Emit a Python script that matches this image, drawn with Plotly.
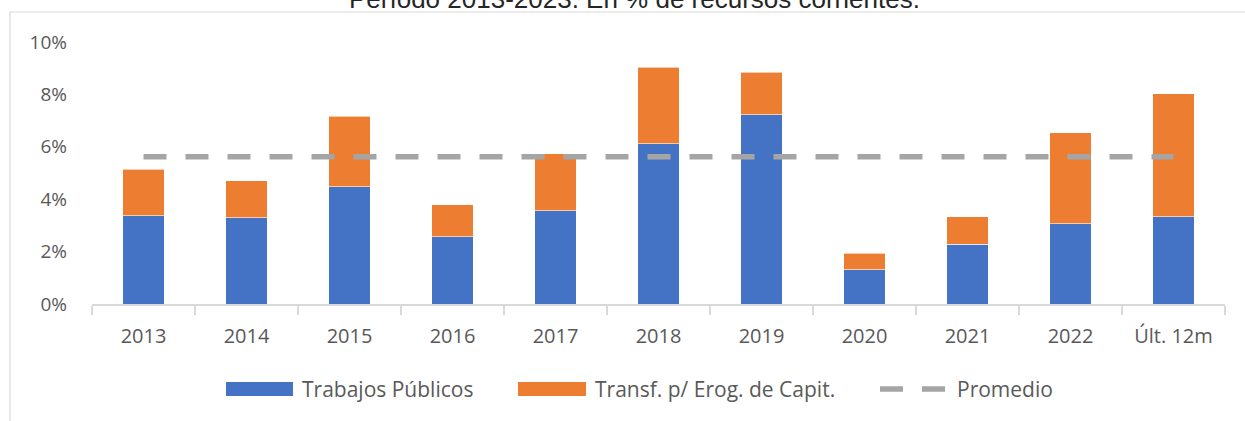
import plotly.graph_objects as go

categories = ["2013", "2014", "2015", "2016", "2017", "2018", "2019", "2020", "2021", "2022", "Últ. 12m"]
trabajos_publicos = [3.37, 3.30, 4.47, 2.57, 3.56, 6.12, 7.22, 1.31, 2.28, 3.06, 3.33]
transf_capital = [1.78, 1.41, 2.69, 1.22, 2.18, 2.91, 1.62, 0.62, 1.05, 3.47, 4.69]
promedio = [5.62] * len(categories)
y_ticks = [0, 2, 4, 6, 8, 10]
y_ticklabels = ["0%", "2%", "4%", "6%", "8%", "10%"]
title_text = "Período 2013-2023. En % de recursos corrientes."
legend_names = ["Trabajos Públicos", "Transf. p/ Erog. de Capit.", "Promedio"]

W, H = 1245, 421
L, R, T, B = 92, 1225, 42, 304
BLUE, ORANGE, GRAY = "#4472C4", "#ED7D31", "#A5A5A5"
TXT = "#595959"
FONT = "Open Sans"
FS = 19
FS_X = 20
FS_LEG = 21


def px(x):
    return (x - L) / (R - L)


def py(y):
    return (B - y) / (B - T)


fig = go.Figure()
fig.add_trace(go.Bar(x=categories, y=trabajos_publicos, name=legend_names[0],
                     marker=dict(color=BLUE, line=dict(color="white", width=0.6))))
fig.add_trace(go.Bar(x=categories, y=transf_capital, name=legend_names[1],
                     marker=dict(color=ORANGE, line=dict(color="white", width=0.6))))
fig.add_trace(go.Scatter(x=categories, y=promedio, name=legend_names[2], mode="lines",
                         line=dict(color=GRAY, width=5.5, dash="23px,19px")))

shapes = [
    # outer border
    dict(type="rect", xref="paper", yref="paper", x0=px(10), x1=px(1260), y0=py(440), y1=py(12),
         line=dict(color="#D9D9D9", width=1.2), fillcolor="rgba(0,0,0,0)", layer="below"),
    # legend symbols
    dict(type="rect", xref="paper", yref="paper", x0=px(226), x1=px(293), y0=py(396), y1=py(382),
         line=dict(width=0), fillcolor=BLUE),
    dict(type="rect", xref="paper", yref="paper", x0=px(518), x1=px(586), y0=py(396), y1=py(382),
         line=dict(width=0), fillcolor=ORANGE),
    dict(type="line", xref="paper", yref="paper", x0=px(880), x1=px(947), y0=py(389), y1=py(389),
         line=dict(color=GRAY, width=5.5, dash="23px,19px")),
]

annotations = [
    dict(text=title_text, xref="paper", yref="paper", x=px(634), y=py(-1.5), xanchor="center",
         yanchor="middle", showarrow=False, font=dict(family="Liberation Sans", size=26, color="#262626")),
    dict(text=legend_names[0], xref="paper", yref="paper", x=px(300), y=py(389), xanchor="left",
         yanchor="middle", showarrow=False, font=dict(family=FONT, size=FS_LEG, color=TXT)),
    dict(text=legend_names[1], xref="paper", yref="paper", x=px(593), y=py(389), xanchor="left",
         yanchor="middle", showarrow=False, font=dict(family=FONT, size=FS_LEG, color=TXT)),
    dict(text=legend_names[2], xref="paper", yref="paper", x=px(955), y=py(389), xanchor="left",
         yanchor="middle", showarrow=False, font=dict(family=FONT, size=FS_LEG, color=TXT)),
]

fig.update_layout(
    width=W, height=H,
    margin=dict(l=L, r=W - R, t=T, b=H - B, pad=0),
    barmode="stack", bargap=0.6,
    showlegend=False,
    plot_bgcolor="white", paper_bgcolor="white",
    shapes=shapes, annotations=annotations,
    font=dict(family=FONT, size=FS, color=TXT),
)
fig.update_xaxes(type="category", showline=True, linecolor="#D9D9D9", linewidth=1.5,
                 ticks="outside", tickson="boundaries", ticklen=9, tickcolor="#D9D9D9", tickwidth=1.5,
                 ticklabelstandoff=13, tickfont=dict(family=FONT, size=FS_X, color=TXT), showgrid=False)
fig.update_yaxes(range=[0, 10], tickvals=y_ticks, ticktext=y_ticklabels, showgrid=False,
                 zeroline=False, showline=False, ticklabelstandoff=24,
                 tickfont=dict(family=FONT, size=FS, color=TXT))

fig.write_html("out.html", config={"displayModeBar": False},
               post_script="document.body.style.margin='0px';")
